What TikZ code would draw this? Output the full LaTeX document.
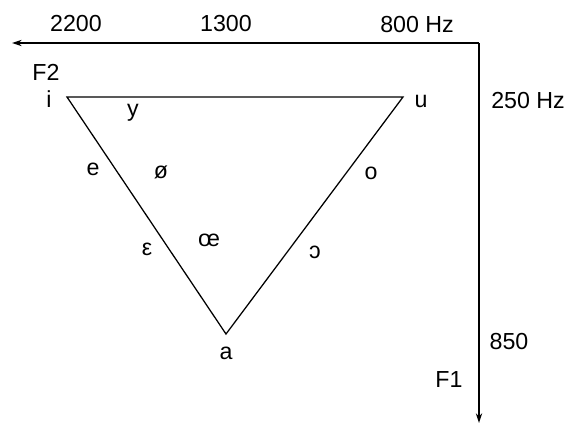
\documentclass[tikz,border=0pt]{standalone}
\usepackage{fontspec}
\setmainfont{Liberation Sans}
\usetikzlibrary{positioning, arrows.meta, calc}

\tikzset{
  axisline/.style={line width=0.9pt, -{Stealth[length=7pt, width=4.5pt]}},
  vowel/.style={font=\fontsize{16.5}{19}\selectfont, inner sep=1pt},
  tick/.style={font=\fontsize{16.5}{19}\selectfont, inner sep=1pt}
}

\begin{document}
\begin{tikzpicture}[x=0.025cm, y=-0.025cm]
  \useasboundingbox (0,0) rectangle (569,428);

  % axes
  \coordinate (corner) at (479,43);
  \coordinate (f2end) at (12,43);
  \coordinate (f1end) at (479,423);
  \draw[axisline] (corner) -- (f2end);
  \draw[axisline] (corner) -- (f1end);

  \node[tick] (t2200) at (76,24) {2200};
  \node[tick] (t1300) at (226,24) {1300};
  \node[tick] (t800) at (417,25) {800 Hz};
  \node[tick] (f2) at (46,72) {F2};
  \node[tick] (t250) at (528,101) {250 Hz};
  \node[tick] (t850) at (509,342) {850};
  \node[tick] (f1) at (449,380) {F1};

  % vowel triangle
  \coordinate (vi) at (67,97);
  \coordinate (vu) at (403,97);
  \coordinate (va) at (226,334);
  \draw[line width=0.9pt] (vi) -- (vu) -- (va) -- cycle;

  \node[vowel] (i) at (49,99) {i};
  \node[vowel] (u) at (421,101) {u};
  \node[vowel] (a) at (226,353) {a};
  \node[vowel] (y) at (133,113) {y};
  \node[vowel] (e) at (93,169) {e};
  \node[vowel] (oslash) at (161,172) {ø};
  \node[vowel] (o) at (371,173) {o};
  \node[vowel] (epsilon) at (147,249) {ε};
  \node[vowel] (oe) at (209,240) {œ};
  \node[vowel] (openo) at (315,252) {ɔ};
\end{tikzpicture}
\end{document}
